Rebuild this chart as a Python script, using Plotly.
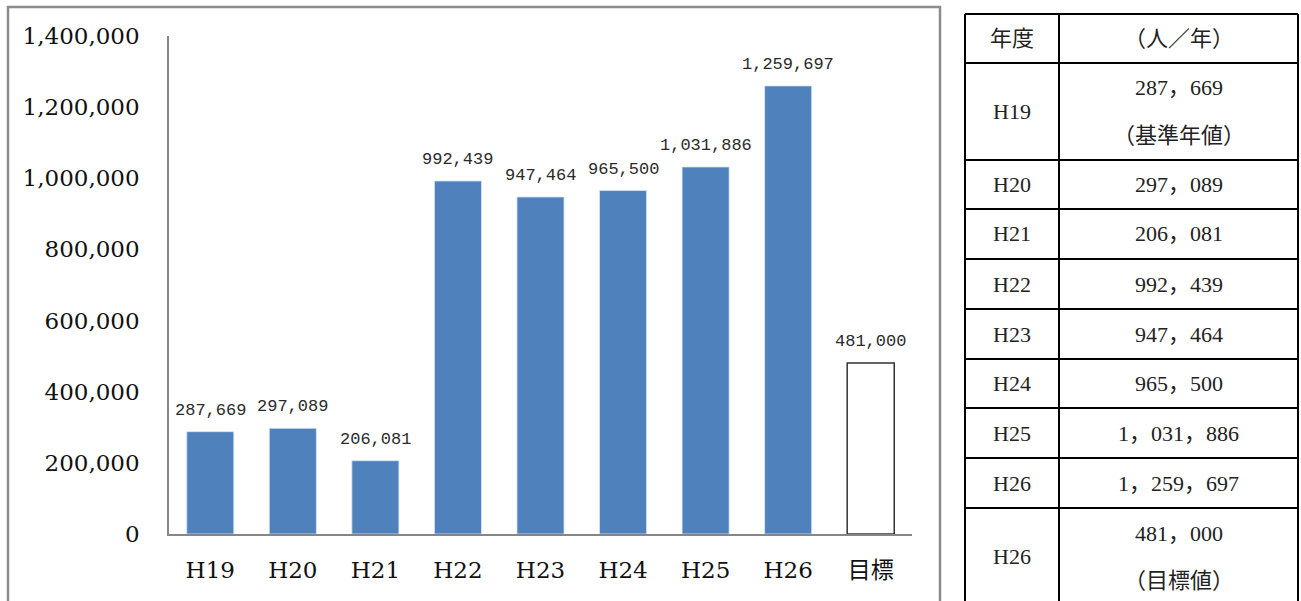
import plotly.graph_objects as go

# Annual visitors (people / year) and the target value
categories = ["H19", "H20", "H21", "H22", "H23", "H24", "H25", "H26", "目標"]
values = [287669, 297089, 206081, 992439, 947464, 965500, 1031886, 1259697, 481000]
y_ticks = [0, 200000, 400000, 600000, 800000, 1000000, 1200000, 1400000]

# Side table
table_header = ["年度", "（人／年）"]
table_years = ["H19", "H20", "H21", "H22", "H23", "H24", "H25", "H26", "H26"]
table_notes = ["（基準年値）", "", "", "", "", "", "", "", "（目標値）"]

W, H = 1301, 601
L, R, T, B = 169, 912, 36, 534  # plot area in pixels

BLUE = "#4F81BD"
AXIS_FONT = "DejaVu Serif, Noto Sans CJK JP, serif"
TABLE_FONT = "Liberation Serif, Noto Sans CJK JP, serif"
MONO = "Liberation Mono, monospace"


def px_x(x):
    return (x - L) / (R - L)


def px_y(y):
    return (B - y) / (B - T)


def fmt_table(v):
    return f"{v:,}".replace(",", "，")


colors = [BLUE] * (len(values) - 1) + ["white"]
line_colors = ["#dbe5f1"] * (len(values) - 1) + ["#333333"]
line_widths = [0.8] * (len(values) - 1) + [1.5]

fig = go.Figure(
    go.Bar(
        x=categories,
        y=values,
        width=0.57,
        marker=dict(color=colors, line=dict(color=line_colors, width=line_widths)),
        hoverinfo="skip",
    )
)

annotations = []
# Value labels above bars
for c, v in zip(categories, values):
    annotations.append(dict(
        x=c, y=v, xref="x", yref="y", text=f"{v:,}", showarrow=False,
        yanchor="bottom", yshift=10,
        font=dict(family=MONO, size=17, color="#2a2a2a"),
    ))

shapes = []
# Outer chart frame
shapes.append(dict(
    type="rect", xref="paper", yref="paper",
    x0=px_x(8), x1=px_x(940), y0=px_y(620), y1=px_y(7),
    line=dict(color="#8c8c8c", width=2.5), fillcolor="rgba(0,0,0,0)", layer="below",
))

# Table grid
tx0, tx1, tx2 = 965, 1059, 1298
row_lines = [14, 63, 160, 209, 259, 309, 359, 408, 458, 508, 610]
for yl in row_lines[:-1]:
    shapes.append(dict(type="line", xref="paper", yref="paper",
                       x0=px_x(tx0), x1=px_x(tx2), y0=px_y(yl), y1=px_y(yl),
                       line=dict(color="black", width=2)))
for xl in (tx0, tx1, tx2):
    shapes.append(dict(type="line", xref="paper", yref="paper",
                       x0=px_x(xl), x1=px_x(xl), y0=px_y(row_lines[0]), y1=px_y(row_lines[-1]),
                       line=dict(color="black", width=2)))

c1 = (tx0 + tx1) / 2
c2 = (tx1 + tx2) / 2
tfont = dict(family=TABLE_FONT, size=22, color="#222222")


def cell(x, y, text):
    annotations.append(dict(x=px_x(x), y=px_y(y), xref="paper", yref="paper",
                            text=text, showarrow=False, font=tfont,
                            xanchor="center", yanchor="middle"))


hy = (row_lines[0] + row_lines[1]) / 2
cell(c1, hy, table_header[0])
cell(c2, hy, table_header[1])
for i, (yr, v, note) in enumerate(zip(table_years, values, table_notes)):
    top, bot = row_lines[i + 1], row_lines[i + 2]
    mid = (top + bot) / 2
    if i == len(values) - 1:
        mid = (top + 605) / 2
    cell(c1, mid, yr)
    if note:
        cell(c2, mid - 23.5, fmt_table(v))
        cell(c2, mid + 23.5, note)
    else:
        cell(c2, mid, fmt_table(v))

fig.update_layout(
    width=W, height=H,
    margin=dict(l=L, r=W - R, t=T, b=H - B),
    paper_bgcolor="white", plot_bgcolor="white",
    showlegend=False,
    bargap=0.43,
    xaxis=dict(
        range=[-0.5, len(categories) - 0.5],
        showline=True, linecolor="#868686", linewidth=1.5,
        ticks="", showgrid=False, zeroline=False,
        tickfont=dict(family=AXIS_FONT, size=23, color="#111111"),
        ticklabelstandoff=15,
    ),
    yaxis=dict(
        range=[0, 1400000], tickvals=y_ticks,
        ticktext=[f"{t:,}" for t in y_ticks],
        showline=True, linecolor="#868686", linewidth=1.5,
        ticks="", showgrid=False, zeroline=False,
        tickfont=dict(family=AXIS_FONT, size=23, color="#111111"),
        ticklabelstandoff=23,
    ),
    annotations=annotations,
    shapes=shapes,
)

fig.write_html("out.html")
